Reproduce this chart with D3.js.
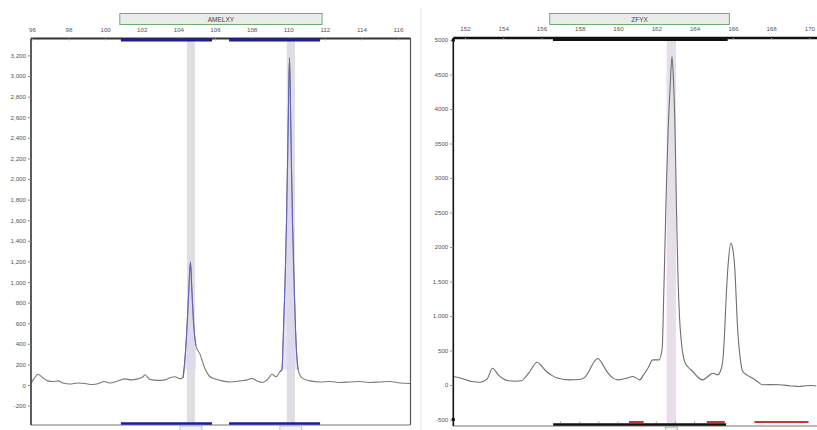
<!DOCTYPE html>
<html>
<head>
<meta charset="utf-8">
<script src="https://cdn.jsdelivr.net/npm/d3@7"></script>
<style>
  body { margin: 0; background: #fff; }
  svg { display: block; }
  text { font-family: "Liberation Sans", Arial, sans-serif; }
</style>
</head>
<body>
<svg id="chart" width="817" height="430"></svg>
<script>
// --- AMELXY (left panel) ---
var leftTicksX = [96, 98, 100, 102, 104, 106, 108, 110, 112, 114, 116];
var leftTicksY = [-200, 0, 200, 400, 600, 800, 1000, 1200, 1400, 1600, 1800, 2000, 2200, 2400, 2600, 2800, 3000, 3200];
var leftTickLabelsY = ['-200', '0', '200', '400', '600', '800', '1,000', '1,200', '1,400', '1,600', '1,800', '2,000', '2,200', '2,400', '2,600', '2,800', '3,000', '3,200'];
var leftSize = [95.95, 96.11, 96.33, 96.60, 96.87, 97.15, 97.42, 97.69, 98.08, 98.51, 98.90, 99.28, 99.72, 99.93,
  100.26, 100.70, 101.08, 101.41, 101.79, 102.07, 102.17, 102.45, 102.89, 103.27, 103.54, 103.81, 104.09, 104.25,
  104.36, 104.47, 104.58, 104.66, 104.74, 104.85, 104.96, 105.18, 105.45, 105.73, 106.00, 106.38, 106.82, 107.37,
  107.75, 108.02, 108.30, 108.57, 108.90, 109.11, 109.33, 109.55, 109.66, 109.72, 109.83, 109.91, 109.99, 110.07,
  110.15, 110.23, 110.32, 110.43, 110.54, 110.75, 111.19, 111.74, 112.28, 112.83, 113.38, 113.92, 114.47, 115.02,
  115.56, 116.11, 116.66];
var leftRfu = [20, 60, 105, 70, 40, 35, 40, 20, 10, 20, 15, 5, 20, 35,
  20, 40, 60, 50, 60, 80, 100, 55, 45, 50, 70, 80, 60, 70,
  250, 550, 950, 1195, 900, 550, 380, 300, 160, 80, 60, 40, 30, 40,
  50, 65, 40, 25, 60, 105, 80, 130, 150, 400, 1000, 1600, 2400, 3180,
  2400, 1600, 1000, 400, 150, 70, 40, 30, 35, 25, 30, 35, 25, 30,
  35, 20, 15];
var leftBins = [[100.86, 105.84], [106.77, 111.74]];
var leftCalls = [[104.47, 104.91], [109.92, 110.37]];
var leftPeakWindows = [[104.25, 105.0], [109.55, 110.6]];
var leftMarker = 'AMELXY';
var leftMarkerRange = [100.8, 111.85];

// --- ZFYX (right panel) ---
var rightTicksX = [152, 154, 156, 158, 160, 162, 164, 166, 168, 170];
var rightTicksY = [-500, 0, 500, 1000, 1500, 2000, 2500, 3000, 3500, 4000, 4500, 5000];
var rightTickLabelsY = ['-500', '0', '500', '1,000', '1,500', '2000', '2500', '3000', '3500', '4000', '4500', '5000'];
var rightSize = [151.39, 151.84, 152.35, 152.78, 153.16, 153.44, 153.74, 153.98, 154.26, 154.61, 154.96, 155.18,
  155.39, 155.77, 156.02, 156.26, 156.54, 156.87, 157.48, 158.00, 158.26, 158.52, 158.73, 158.95, 159.15, 159.36,
  159.74, 160.00, 160.44, 160.78, 161.13, 161.34, 161.56, 161.82, 162.14, 162.31, 162.38, 162.46, 162.54, 162.62,
  162.72, 162.82, 162.90, 162.98, 163.06, 163.13, 163.21, 163.32, 163.48, 163.69, 163.91, 164.15, 164.43, 164.68,
  164.95, 165.21, 165.35, 165.47, 165.56, 165.65, 165.77, 165.90, 165.98, 166.09, 166.26, 166.38, 166.52, 166.77,
  167.04, 167.29, 167.56, 167.91, 168.43, 168.96, 169.48, 169.79, 170.17, 170.36];
var rightRfu = [123, 95, 51, 41, 90, 243, 148, 95, 61, 55, 61, 120,
  196, 330, 270, 196, 140, 99, 75, 80, 110, 220, 330, 385, 320, 220,
  100, 75, 99, 123, 75, 150, 243, 365, 365, 533, 1200, 2100, 3000, 3700,
  4300, 4760, 4400, 3700, 2500, 1600, 1000, 600, 340, 250, 196, 120, 75, 120,
  171, 148, 200, 340, 700, 1258, 1800, 2055, 2000, 1742, 775, 400, 196, 140,
  99, 50, 3, 5, 3, -10, -22, -10, -7, -15];
var rightBins = [[156.6, 165.73]];
var rightCalls = [[162.54, 163.03]];
var rightBottomBins = [[156.61, 165.65]];
var rightRedBins = [[160.57, 161.34], [164.64, 165.58], [167.13, 169.96]];
var rightMarker = 'ZFYX';
var rightMarkerRange = [156.43, 165.82];

var svg = d3.select('#chart');

function toPoints (sizes, values) {
  return sizes.map(function (s, i) { return { s: s, v: values[i] }; });
}

function drawPanel (cfg) {
  var x = d3.scaleLinear().domain(cfg.xDomain).range([cfg.left, cfg.right]);
  var y = d3.scaleLinear().domain(cfg.yDomain).range([cfg.bottom, cfg.top]);
  var g = svg.append('g');
  var clipId = 'clip-' + cfg.name;

  g.append('clipPath').attr('id', clipId).append('rect')
    .attr('x', cfg.left).attr('y', cfg.top)
    .attr('width', cfg.right - cfg.left).attr('height', cfg.bottom - cfg.top);

  // called-allele highlight bands
  g.selectAll('rect.call').data(cfg.calls).enter().append('rect')
    .attr('class', 'call')
    .attr('x', function (d) { return x(d[0]); })
    .attr('width', function (d) { return x(d[1]) - x(d[0]); })
    .attr('y', cfg.top)
    .attr('height', cfg.bottom - cfg.top)
    .attr('fill', cfg.callColor);

  var pts = toPoints(cfg.sizes, cfg.values);
  var line = d3.line().x(function (d) { return x(d.s); }).y(function (d) { return y(d.v); })
    .curve(d3.curveMonotoneX);

  var plot = g.append('g').attr('clip-path', 'url(#' + clipId + ')');
  plot.append('path').datum(pts)
    .attr('d', line)
    .attr('fill', 'none')
    .attr('stroke', cfg.lineColor)
    .attr('stroke-width', 1.1);

  // sized peaks drawn over the trace
  if (cfg.peaks) {
    var area = d3.area().x(function (d) { return x(d.s); })
      .y0(function (d) { return y(Math.min(d.v, 150)); })
      .y1(function (d) { return y(d.v); })
      .curve(d3.curveMonotoneX);
    cfg.peaks.forEach(function (w) {
      var seg = pts.filter(function (d) { return d.s >= w[0] && d.s <= w[1]; });
      plot.append('path').datum(seg).attr('d', area)
        .attr('fill', '#dcd8ee').attr('fill-opacity', 0.7).attr('stroke', 'none');
      plot.append('path').datum(seg).attr('d', line)
        .attr('fill', 'none').attr('stroke', '#6363b8').attr('stroke-width', 1.1);
    });
  }

  // frame
  g.append('line').attr('x1', cfg.left).attr('x2', cfg.right).attr('y1', cfg.bottom).attr('y2', cfg.bottom)
    .attr('stroke', '#777').attr('stroke-width', 1);
  if (cfg.rightBorder) {
    g.append('line').attr('x1', cfg.right).attr('x2', cfg.right).attr('y1', cfg.top).attr('y2', cfg.bottom)
      .attr('stroke', '#555').attr('stroke-width', 1.2);
  }
  g.append('line').attr('x1', cfg.left).attr('x2', cfg.right).attr('y1', cfg.top).attr('y2', cfg.top)
    .attr('stroke', cfg.frameColor).attr('stroke-width', cfg.topWidth);
  g.append('line').attr('x1', cfg.left).attr('x2', cfg.left).attr('y1', cfg.top).attr('y2', cfg.bottom)
    .attr('stroke', cfg.frameColor).attr('stroke-width', 1.6);

  // y axis
  var yAxis = d3.axisLeft(y).tickValues(cfg.yTicks).tickSize(3).tickPadding(2)
    .tickFormat(function (d, i) { return cfg.yLabels[i]; });
  var ya = g.append('g').attr('transform', 'translate(' + cfg.left + ',0)').call(yAxis);
  ya.select('.domain').remove();
  ya.selectAll('line').attr('stroke', '#888');
  ya.selectAll('text').attr('font-size', 6.2).attr('fill', '#555');

  // top size axis
  var xAxis = d3.axisTop(x).tickValues(cfg.xTicks).tickSizeInner(-2).tickSizeOuter(0).tickPadding(7)
    .tickFormat(d3.format('d'));
  var xa = g.append('g').attr('transform', 'translate(0,' + cfg.top + ')').call(xAxis);
  xa.select('.domain').remove();
  xa.selectAll('line').attr('stroke', '#aaa');
  xa.selectAll('text').attr('font-size', 6.2).attr('fill', '#555');

  // marker label box
  var mx0 = x(cfg.markerRange[0]), mx1 = x(cfg.markerRange[1]);
  g.append('rect').attr('x', mx0).attr('y', 13.5).attr('width', mx1 - mx0).attr('height', 11)
    .attr('fill', '#e9ece9').attr('stroke', '#6fae6f').attr('stroke-width', 1);
  g.append('text').attr('x', (mx0 + mx1) / 2).attr('y', 21.5).attr('text-anchor', 'middle')
    .attr('font-size', 6.5).attr('fill', '#444').text(cfg.marker);

  // bin bars
  g.selectAll('line.bin').data(cfg.bins).enter().append('line')
    .attr('class', 'bin')
    .attr('x1', function (d) { return x(d[0]); }).attr('x2', function (d) { return x(d[1]); })
    .attr('y1', cfg.top + 1.5).attr('y2', cfg.top + 1.5)
    .attr('stroke', cfg.binColor).attr('stroke-width', 3);

  return { x: x, y: y, g: g };
}

// left panel
var L = drawPanel({
  name: 'left', sizes: leftSize, values: leftRfu,
  xDomain: [95.95, 116.68], yDomain: [-388, 3364],
  left: 31, right: 410.5, top: 38.5, bottom: 425,
  xTicks: leftTicksX, yTicks: leftTicksY, yLabels: leftTickLabelsY,
  calls: leftCalls, callColor: '#e0dde3', lineColor: '#7a7a7a',
  peaks: leftPeakWindows, marker: leftMarker, markerRange: leftMarkerRange,
  bins: leftBins, binColor: '#1c1c9c', frameColor: '#333', topWidth: 1.8, rightBorder: true
});
L.g.selectAll('line.bbin').data(leftBins).enter().append('line')
  .attr('x1', function (d) { return L.x(d[0]); }).attr('x2', function (d) { return L.x(d[1]); })
  .attr('y1', 423.5).attr('y2', 423.5).attr('stroke', '#1c1c9c').attr('stroke-width', 2.5);
L.g.selectAll('rect.lbl').data(leftCalls).enter().append('rect')
  .attr('x', function (d) { return L.x((d[0] + d[1]) / 2) - 11; }).attr('y', 426)
  .attr('width', 22).attr('height', 8)
  .attr('fill', '#f2f2f2').attr('stroke', '#aab8aa').attr('stroke-width', 0.8);

// separator between panels
svg.append('line').attr('x1', 421).attr('x2', 421).attr('y1', 8).attr('y2', 430)
  .attr('stroke', '#e4e4e4').attr('stroke-width', 1);

// right panel
var R = drawPanel({
  name: 'right', sizes: rightSize, values: rightRfu,
  xDomain: [151.39, 170.4], yDomain: [-594, 5029],
  left: 453.3, right: 817, top: 38, bottom: 426,
  xTicks: rightTicksX, yTicks: rightTicksY, yLabels: rightTickLabelsY,
  calls: rightCalls, callColor: '#e6dfe9', lineColor: '#6e6e6e',
  peaks: null, marker: rightMarker, markerRange: rightMarkerRange,
  bins: rightBins, binColor: '#111', frameColor: '#111', topWidth: 2.4, rightBorder: false
});
R.g.selectAll('line.bbin').data(rightBottomBins).enter().append('line')
  .attr('x1', function (d) { return R.x(d[0]); }).attr('x2', function (d) { return R.x(d[1]); })
  .attr('y1', 424.5).attr('y2', 424.5).attr('stroke', '#111').attr('stroke-width', 2.5);
R.g.selectAll('line.btick').data(d3.range(157, 166)).enter().append('line')
  .attr('x1', function (d) { return R.x(d); }).attr('x2', function (d) { return R.x(d); })
  .attr('y1', 421.5).attr('y2', 424).attr('stroke', '#555').attr('stroke-width', 0.6);
R.g.selectAll('line.rbin').data(rightRedBins).enter().append('line')
  .attr('x1', function (d) { return R.x(d[0]); }).attr('x2', function (d) { return R.x(d[1]); })
  .attr('y1', 422).attr('y2', 422).attr('stroke', '#d03232').attr('stroke-width', 2);
R.g.selectAll('rect.lbl').data(rightCalls).enter().append('rect')
  .attr('x', function (d) { return R.x((d[0] + d[1]) / 2) - 6; }).attr('y', 427)
  .attr('width', 12).attr('height', 6)
  .attr('fill', '#eef3ee').attr('stroke', '#7fb07f').attr('stroke-width', 0.8);
// corner markers on the y axis
[R.y(5000), R.y(-500)].forEach(function (yy) {
  R.g.append('rect').attr('x', R.x(151.39) - 1.5).attr('y', yy - 1.5)
    .attr('width', 3).attr('height', 3).attr('fill', '#111');
});
</script>
</body>
</html>
